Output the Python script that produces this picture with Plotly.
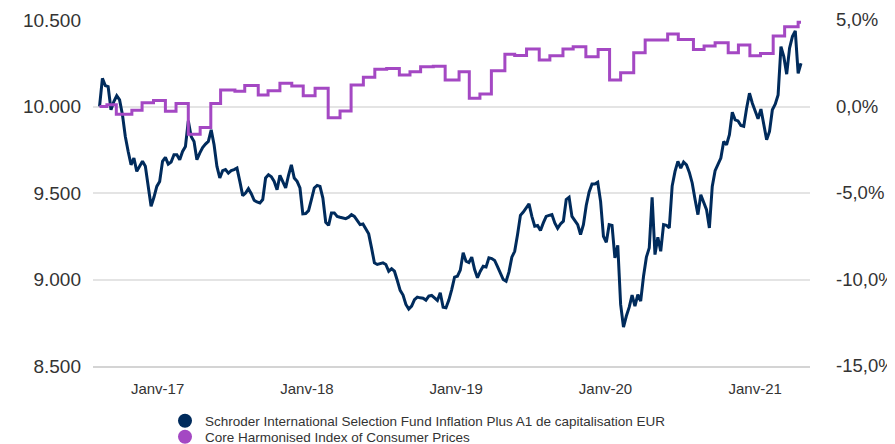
import plotly.graph_objects as go
import pandas as pd

# ---------------- data ----------------
fund_name = "Schroder International Selection Fund Inflation Plus A1 de capitalisation EUR"
cpi_name = "Core Harmonised Index of Consumer Prices"

fund_start = "2016-08-12"   # weekly observations, rebased to 10 000
fund_values = [
    10000, 10163, 10121, 10115, 9981, 10029, 10062, 10038, 9952, 9827,
    9740, 9663, 9702, 9625, 9654, 9683, 9654, 9529, 9423, 9475,
    9538, 9567, 9683, 9706, 9667, 9679, 9721, 9721, 9692, 9740,
    9769, 9917, 9827, 9798, 9692, 9731, 9763, 9783, 9798, 9865,
    9779, 9654, 9587, 9629, 9635, 9615, 9629, 9635, 9644, 9567,
    9485, 9500, 9525, 9496, 9458, 9448, 9442, 9462, 9587, 9606,
    9594, 9567, 9519, 9602, 9567, 9529, 9602, 9663, 9587, 9567,
    9529, 9379, 9381, 9398, 9462, 9529, 9544, 9538, 9471, 9331,
    9313, 9385, 9385, 9365, 9360, 9356, 9352, 9360, 9375, 9365,
    9337, 9317, 9321, 9288, 9264, 9183, 9096, 9087, 9090, 9096,
    9087, 9048, 9062, 9048, 8994, 8937, 8910, 8856, 8829, 8846,
    8883, 8898, 8894, 8892, 8881, 8904, 8908, 8896, 8879, 8923,
    8840, 8837, 8881, 8942, 9014, 9019, 9054, 9154, 9106, 9098,
    9129, 9058, 9010, 9048, 9077, 9073, 9125, 9121, 9110, 9075,
    9033, 9000, 8990, 9044, 9129, 9163, 9260, 9371, 9390, 9417,
    9437, 9365, 9308, 9312, 9283, 9327, 9365, 9371, 9375, 9327,
    9296, 9321, 9337, 9462, 9475, 9365, 9340, 9317, 9260, 9317,
    9429, 9506, 9552, 9552, 9562, 9452, 9250, 9215, 9317, 9313,
    9125, 9198, 8856, 8725, 8789, 8840, 8910, 8846, 8913, 8875,
    9019, 9129, 9183, 9475, 9144, 9244, 9163, 9317, 9313, 9298,
    9540, 9625, 9683, 9644, 9679, 9663, 9619, 9558, 9462, 9375,
    9490, 9448, 9404, 9298, 9538, 9629, 9663, 9702, 9798, 9779,
    9837, 9967, 9923, 9917, 9890, 9885, 9990, 10077, 10019, 9971,
    9929, 9985, 9900, 9808, 9856, 9981, 10013, 10067, 10346, 10288,
    10187, 10337, 10404, 10437, 10192, 10250,
]

# Core HICP, cumulative change (%) - value in force from each date
cpi_dates = [
    "2016-08-12", "2016-08-30", "2016-09-22", "2016-10-30", "2016-11-24", "2016-12-22",
    "2017-01-20", "2017-02-15", "2017-03-17", "2017-04-15", "2017-05-11", "2017-06-04",
    "2017-07-09", "2017-08-02", "2017-09-04", "2017-09-28", "2017-10-27", "2017-11-25",
    "2017-12-23", "2018-01-21", "2018-02-22", "2018-03-23", "2018-04-19", "2018-05-19",
    "2018-06-16", "2018-07-15", "2018-08-15", "2018-09-10", "2018-10-06", "2018-11-06",
    "2018-12-05", "2019-01-08", "2019-02-02", "2019-02-28", "2019-03-28", "2019-04-30",
    "2019-05-24", "2019-06-22", "2019-07-23", "2019-08-18", "2019-09-19", "2019-10-14",
    "2019-11-14", "2019-12-14", "2020-01-11", "2020-02-07", "2020-03-10", "2020-04-07",
    "2020-06-01", "2020-06-27", "2020-08-03", "2020-08-29", "2020-09-25", "2020-10-27",
    "2020-11-21", "2020-12-19", "2021-01-14", "2021-02-14", "2021-03-14", "2021-04-16",
    "2021-04-23",
]
cpi_values = [
    0.00, 0.10, -0.45, -0.22, 0.22, 0.35,
    -0.27, 0.17, -1.60, -1.22, 0.17, 0.95,
    0.88, 1.22, 0.66, 0.91, 1.34, 1.18,
    0.62, 1.05, -0.65, -0.26, 1.24, 1.69,
    2.15, 2.20, 1.82, 2.01, 2.30, 2.33,
    1.53, 2.01, 0.47, 0.72, 2.07, 3.02,
    2.95, 3.32, 2.69, 2.94, 3.32, 3.46,
    2.88, 3.30, 1.53, 1.95, 3.11, 3.84,
    4.19, 3.88, 3.30, 3.50, 3.69, 3.11,
    3.55, 2.94, 3.07, 4.08, 4.61, 4.87,
    4.87,
]

x_tick_dates = ["2017-01-01", "2018-01-01", "2019-01-01", "2020-01-01", "2021-01-01"]
x_tick_labels = ["Janv-17", "Janv-18", "Janv-19", "Janv-20", "Janv-21"]
y_ticks = [8500, 9000, 9500, 10000, 10500]
y_tick_labels = ["8.500", "9.000", "9.500", "10.000", "10.500"]
y2_ticks = [-15, -10, -5, 0, 5]
y2_tick_labels = ["-15,0%", "-10,0%", "-5,0%", "0,0%", "5,0%"]

# ---------------- style ----------------
NAVY = "#002B5C"
PURPLE = "#A448C3"
TEXT = "#333333"
FONT = "Liberation Sans, Arial, sans-serif"

# the page body has an 8px margin, so the figure is 8px smaller than the window
FIG_W, FIG_H = 887, 436

fund_dates = pd.date_range(fund_start, periods=len(fund_values), freq="7D")

fig = go.Figure()
fig.add_trace(go.Scatter(
    x=fund_dates, y=fund_values, mode="lines",
    line=dict(color=NAVY, width=3), showlegend=False, yaxis="y",
))
fig.add_trace(go.Scatter(
    x=pd.to_datetime(cpi_dates), y=cpi_values, mode="lines",
    line=dict(color=PURPLE, width=3, shape="hv"), showlegend=False, yaxis="y2",
))
# legend entries (circle symbols)
fig.add_trace(go.Scatter(
    x=[None], y=[None], mode="markers", name=fund_name,
    marker=dict(color=NAVY, size=14, symbol="circle"), legend="legend",
))
fig.add_trace(go.Scatter(
    x=[None], y=[None], mode="markers", name=cpi_name,
    marker=dict(color=PURPLE, size=14, symbol="circle"), legend="legend2",
))

legend_common = dict(
    xref="container", yref="container", xanchor="left", yanchor="middle",
    font=dict(family=FONT, size=13.5, color=TEXT), bgcolor="rgba(0,0,0,0)",
    borderwidth=0, itemsizing="trace",
)

fig.update_layout(
    width=FIG_W, height=FIG_H,
    margin=dict(l=85, r=85, t=12, b=78, autoexpand=False),
    paper_bgcolor="white", plot_bgcolor="white",
    font=dict(family=FONT, color=TEXT),
    xaxis=dict(
        type="date", range=["2016-07-27", "2021-05-15"],
        tickvals=x_tick_dates, ticktext=x_tick_labels,
        showgrid=False, zeroline=False,
        showline=True, linecolor="#D4D4D4", linewidth=2,
        ticks="", tickfont=dict(family=FONT, size=15, color=TEXT),
        ticklabelstandoff=8, tickangle=0, automargin=False,
    ),
    yaxis=dict(
        range=[8500, 10500], tickvals=y_ticks, ticktext=y_tick_labels,
        showgrid=True, gridcolor="#E4E4E4", gridwidth=2, zeroline=False,
        ticks="", tickfont=dict(family=FONT, size=19, color=TEXT),
        ticklabelstandoff=11, automargin=False,
    ),
    yaxis2=dict(
        overlaying="y", side="right", range=[-15, 5],
        tickvals=y2_ticks, ticktext=y2_tick_labels,
        showgrid=False, zeroline=False, ticks="",
        tickfont=dict(family=FONT, size=18.5, color=TEXT),
        ticklabelstandoff=25, automargin=False,
    ),
    legend=dict(x=157 / FIG_W, y=1 - 413 / FIG_H, **legend_common),
    legend2=dict(x=157 / FIG_W, y=1 - 429 / FIG_H, **legend_common),
    showlegend=True,
)

fig.write_html("out.html")
